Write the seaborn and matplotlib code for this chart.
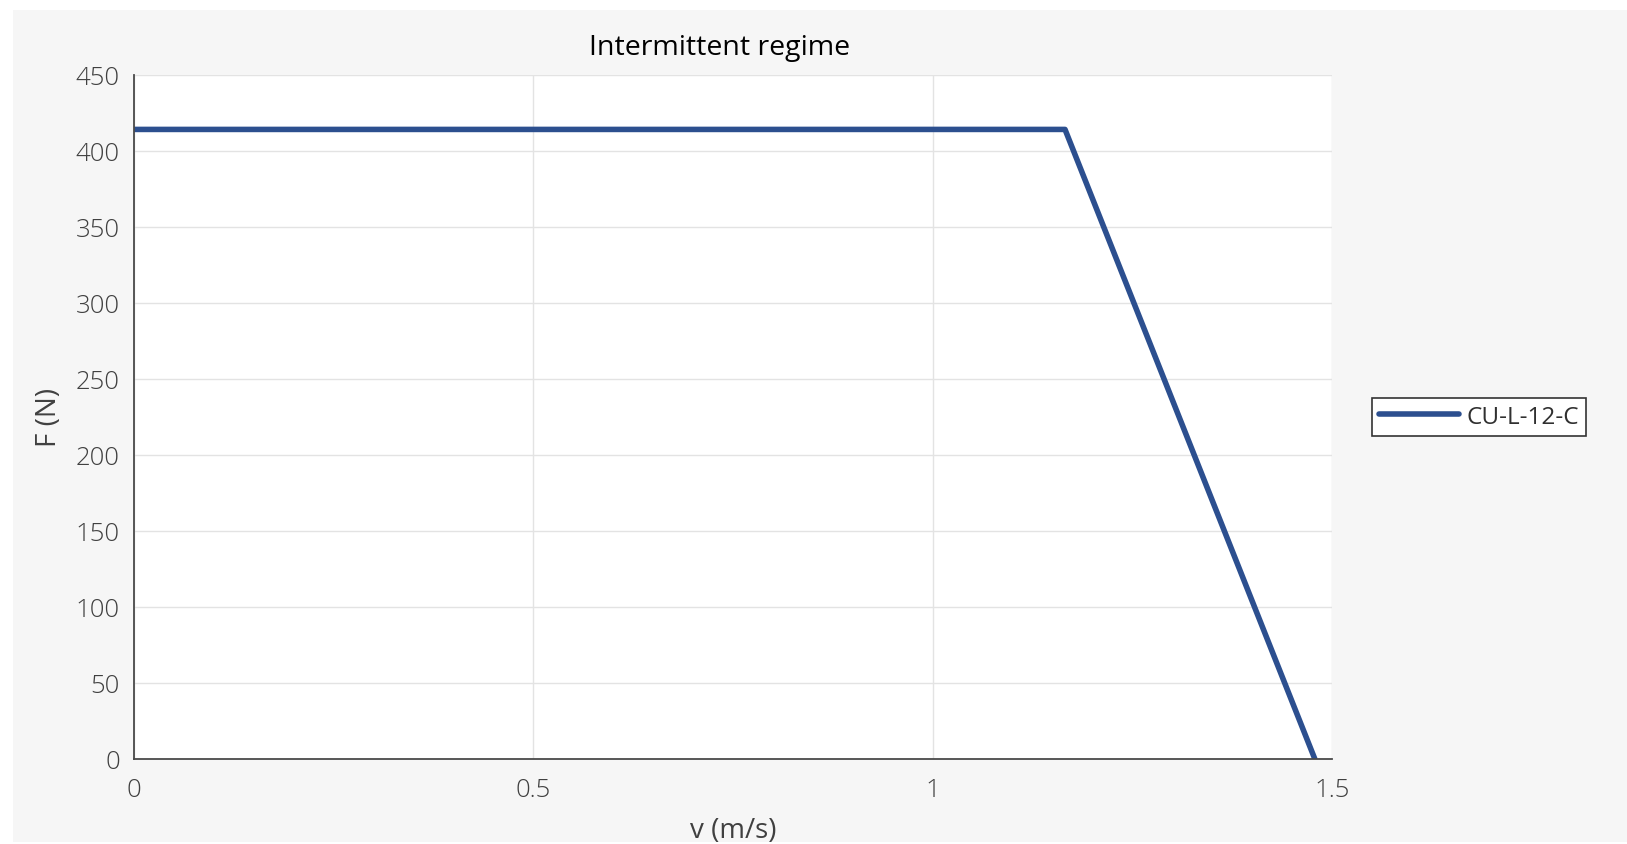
import matplotlib
matplotlib.use("Agg")
import matplotlib.pyplot as plt
import seaborn as sns
import pandas as pd
from matplotlib.patches import Rectangle

# Data
velocity = [0.0, 1.1655, 1.478]
force = [414.0, 414.0, 0.0]
series_name = "CU-L-12-C"
x_ticks = [0, 0.5, 1, 1.5]
x_tick_labels = ["0", "0.5", "1", "1.5"]
y_ticks = [0, 50, 100, 150, 200, 250, 300, 350, 400, 450]

sns.set_theme(style="white")
plt.rcParams['font.family'] = ['Open Sans', 'DejaVu Sans']

df = pd.DataFrame({"v": velocity, "F": force, "series": series_name})

fig = plt.figure(figsize=(16.27, 8.45), dpi=100)
fig.patch.set_facecolor("white")
fig.patches.append(Rectangle((13 / 1627, 1 - 843 / 845), 1 - 13 / 1627, (843 - 11) / 845,
                             transform=fig.transFigure, facecolor="#f6f6f6",
                             edgecolor="none", zorder=-10))

ax = fig.add_axes([0.08218, 0.10095, 0.73669, 0.80946])
ax.set_facecolor("white")

sns.lineplot(data=df, x="v", y="F", hue="series", palette=["#2c4f8f"],
             sort=False, linewidth=4.0, ax=ax, legend=True)

ax.set_xlim(0, 1.5)
ax.set_ylim(0, 450)
ax.set_xticks(x_ticks)
ax.set_xticklabels(x_tick_labels)
ax.set_yticks(y_ticks)

ax.grid(True, color="#e3e3e3", linewidth=1.0)
ax.set_axisbelow(True)

for s in ["top", "right"]:
    ax.spines[s].set_visible(False)
for s in ["left", "bottom"]:
    ax.spines[s].set_color("#4a4a4a")
    ax.spines[s].set_linewidth(1.3)

ax.tick_params(axis="both", direction="in", length=9.5, width=1.3, color="#4a4a4a",
               labelsize=18.5, labelcolor="#404040")
ax.tick_params(axis="y", pad=10)
ax.tick_params(axis="x", pad=13)
for lbl in ax.get_xticklabels() + ax.get_yticklabels():
    lbl.set_fontweight("light")

ax.set_xlabel("v (m/s)", fontsize=20, color="#404040", labelpad=10)
ax.set_ylabel("F (N)", fontsize=20, color="#404040", labelpad=9.5)

fig.text(720 / 1627, 1 - 48 / 845, "Intermittent regime", fontsize=20.5,
         color="black", ha="center", va="center")

leg = ax.legend(loc="center left", bbox_to_anchor=(1371.7 / 1627, 1 - 418 / 845),
                bbox_transform=fig.transFigure, fontsize=17.5, frameon=True,
                fancybox=False, handlelength=3.3, handletextpad=0.3,
                borderpad=0.3, borderaxespad=0)
leg.get_frame().set_edgecolor("#333333")
leg.get_frame().set_linewidth(1.2)
leg.get_frame().set_facecolor("white")
leg.get_frame().set_alpha(1.0)
for t in leg.get_texts():
    t.set_color("#303030")

fig.savefig("out.png", dpi=100)
